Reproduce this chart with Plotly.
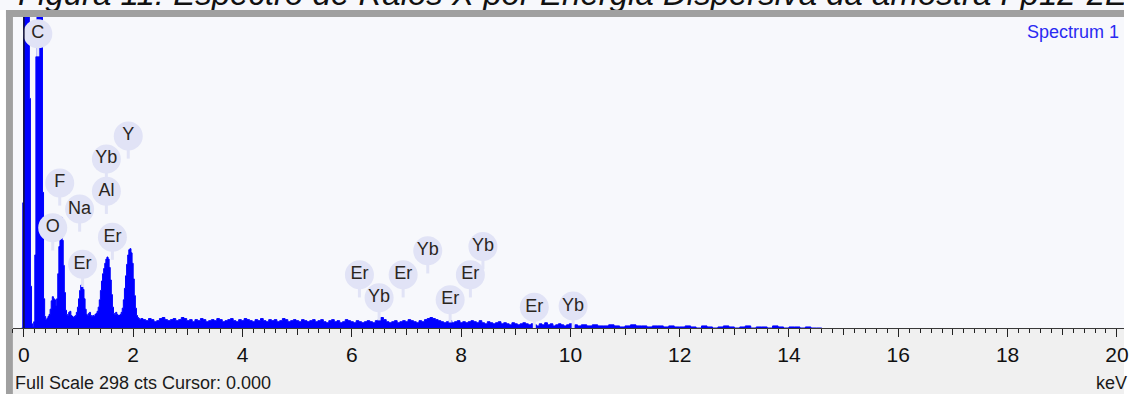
import numpy as np
import plotly.graph_objects as go

# ---------------- data ----------------
# low-energy part of the spectrum, channels of 0.02 keV starting at -0.04 keV
low_start_kev = -0.04
low_step_kev = 0.02
low_cts = [
    0, 120,
    400, 450, 460, 430, 380, 220, 40, 4, 1, 6,
    70, 260, 460, 520, 510, 450, 330, 130, 28, 11,
    8, 9, 11, 13, 18, 26, 30, 28, 27, 21,
    28, 52, 78, 86, 106, 84, 60, 34, 17, 13,
    12, 15, 16, 12, 11, 10, 11, 12, 15, 20,
    28, 36, 41, 42, 37, 28, 18, 13, 12, 14,
    15, 12, 11, 12, 11, 13, 14, 16, 20, 27,
    36, 45, 52, 57, 62, 66, 68, 66, 58, 46,
    32, 20, 14, 13, 15, 13, 12, 12, 13, 15,
    19, 27, 38, 50, 61, 70, 75, 76, 72, 62,
    47, 31, 19, 12, 10, 9, 8, 9,
]
# background part, channels of 0.05 keV starting at 2.18 keV
bg_start_kev = 2.18
bg_step_kev = 0.05
bg_cts = [
    8, 7, 9, 8, 6, 7, 9, 10, 8, 7, 8, 9, 7, 8, 10, 9, 7, 8, 6, 8,
    7, 9, 8, 6, 7, 8, 7, 9, 8, 6, 7, 8, 9, 7, 6, 8, 7, 9, 8, 7,
    6, 8, 7, 9, 7, 6, 8, 7, 8, 6, 7, 9, 8, 6, 7, 8, 7, 6, 8, 7,
    6, 7, 8, 6, 7, 8, 6, 5, 7, 8, 6, 7, 5, 6, 8, 7, 6, 5, 7, 6,
    5, 6, 7, 6, 5, 7, 8, 10, 8, 6, 5, 6, 7, 5, 6, 7, 6, 8, 7, 6,
    5, 7, 6, 8, 9, 10, 9, 8, 7, 6, 5, 6, 7, 5, 6, 7, 5, 6, 5, 6,
    7, 6, 5, 7, 5, 4, 6, 5, 4, 5, 6, 4, 5, 4, 3, 5, 4, 3, 4, 5,
    4, 3, 4, 3, 2, 4, 3, 5, 3, 4, 2, 3, 4, 3, 2, 3, 4, 2, 3, 2,
]
# high-energy tail, channels of 0.1 keV starting at 10.2 keV
tail_start_kev = 10.2
tail_step_kev = 0.1
tail_cts = [
    3, 2, 3, 2, 2, 3, 2, 1, 2, 3, 2, 2, 1, 2, 2, 1, 2, 1, 1, 2,
    1, 0, 2, 1, 0, 1, 2, 1, 0, 1, 2, 0, 1, 1, 0, 2, 1, 0, 1, 1,
    0, 1, 0, 0, 0,
]

# element labels (energy in keV, height in counts)
labels = ["C", "Y", "Yb", "F", "Al", "Na", "O", "Er", "Er",
          "Er", "Yb", "Er", "Yb", "Er", "Yb", "Er", "Er", "Yb"]
label_kev = [0.255, 1.91, 1.51, 0.656, 1.51, 1.02, 0.528, 1.62, 1.075,
             6.14, 6.50, 6.94, 7.39, 8.17, 8.40, 7.80, 9.34, 10.05]
label_cts = [282, 184, 162, 139, 131, 114, 96, 87, 61,
             51, 29, 51, 74, 51, 78, 27, 20, 21]

full_scale_cts = 298
cursor_kev = 0.0
spectrum_name = "Spectrum 1"
x_tick_step = 2
caption = "Figura 11: Espectro de Raios X por Energia Dispersiva da amostra Fp12-2Er"

# ---------------- build ----------------
def grid(start, step, n):
    return list(np.round(start + step * np.arange(n), 3))

kev = grid(low_start_kev, low_step_kev, len(low_cts)) + \
      grid(bg_start_kev, bg_step_kev, len(bg_cts)) + \
      grid(tail_start_kev, tail_step_kev, len(tail_cts))
cts = low_cts + bg_cts + tail_cts

W, H = 1129, 394
def px(x):
    return x / W
def py(y):
    return 1 - y / H

PLOT_L, PLOT_T, PLOT_B = 13, 17, 328
BLUE = "#0000FF"
BUBBLE = "#E1E3F6"
FONT = "Liberation Sans, Arial, sans-serif"

fig = go.Figure()

fig.add_trace(go.Scatter(
    x=kev, y=cts, mode="lines",
    line=dict(color=BLUE, width=1, shape="hv"),
    fill="tozeroy", fillcolor=BLUE, hoverinfo="skip", showlegend=False,
))

# label tails
fig.add_trace(go.Scatter(
    x=label_kev, y=[c - 15 for c in label_cts], mode="markers",
    marker=dict(symbol="line-ns", size=10, line=dict(color=BUBBLE, width=3)),
    hoverinfo="skip", showlegend=False,
))
# label bubbles + text
fig.add_trace(go.Scatter(
    x=label_kev, y=label_cts, mode="markers+text",
    marker=dict(symbol="circle", size=29, color=BUBBLE),
    text=labels, textposition="middle center",
    textfont=dict(family=FONT, size=18, color="#2a2520"),
    hoverinfo="skip", showlegend=False,
))

# helper trace for the 1 keV tick axis
fig.add_trace(go.Scatter(
    x=[cursor_kev], y=[0], xaxis="x2", yaxis="y", mode="markers",
    marker=dict(opacity=0), hoverinfo="skip", showlegend=False,
))

# caption (clipped at the top of the page, hidden below by the frame)
fig.add_trace(go.Scatter(
    x=[18], y=[-3], xaxis="x3", yaxis="y3", mode="text",
    text=[caption], textposition="middle right", cliponaxis=True,
    textfont=dict(family=FONT, size=33, style="italic", color="#111111"),
    hoverinfo="skip", showlegend=False,
))

x_range = [-0.2, 20.13]
x_dom = [px(PLOT_L), 1]
y_dom = [py(PLOT_B), py(PLOT_T)]

fig.update_layout(
    width=W, height=H,
    margin=dict(l=0, r=0, t=0, b=0),
    paper_bgcolor="#FFFFFF",
    plot_bgcolor="#F7F8FC",
    showlegend=False,
    xaxis=dict(
        domain=x_dom, range=x_range, anchor="y",
        showgrid=False, zeroline=False,
        showline=True, linecolor="#3A3A3A", linewidth=1,
        ticks="outside", ticklen=8, tickwidth=1, tickcolor="#222222",
        tick0=0, dtick=x_tick_step,
        tickfont=dict(family=FONT, size=21, color="#111111"),
        ticklabelstandoff=0, ticklabeloverflow="allow",
        minor=dict(ticks="outside", tick0=0, dtick=0.2, ticklen=4,
                   tickwidth=1, tickcolor="#222222", showgrid=False),
    ),
    xaxis2=dict(
        overlaying="x", anchor="y", side="bottom", range=x_range,
        showgrid=False, zeroline=False, showline=False,
        ticks="outside", ticklen=6, tickwidth=1, tickcolor="#222222",
        tick0=0, dtick=x_tick_step / 2, showticklabels=False,
    ),
    yaxis=dict(domain=y_dom, range=[0, full_scale_cts], visible=False,
               showgrid=False, zeroline=False),
    xaxis3=dict(domain=[0, 1], range=[0, W], visible=False, anchor="y3"),
    yaxis3=dict(domain=[py(10), 1], range=[10, 0], visible=False, anchor="x3"),
    shapes=[
        # grey frame: top bar and left bar
        dict(type="rect", xref="paper", yref="paper", layer="below",
             x0=px(6), x1=1, y0=py(17), y1=py(10),
             fillcolor="#A0A0A0", line=dict(width=0)),
        dict(type="rect", xref="paper", yref="paper", layer="below",
             x0=px(6), x1=px(PLOT_L), y0=0, y1=py(10),
             fillcolor="#A0A0A0", line=dict(width=0)),
        # light grey status area under the axis
        dict(type="rect", xref="paper", yref="paper", layer="below",
             x0=px(PLOT_L), x1=1, y0=0, y1=py(PLOT_B),
             fillcolor="#F0F0F0", line=dict(width=0)),
        # cursor line
        dict(type="line", xref="x", yref="y domain", x0=cursor_kev, x1=cursor_kev,
             y0=0, y1=1, line=dict(color="#101030", width=1.5), layer="above"),
    ],
    annotations=[
        dict(text=spectrum_name, xref="paper", yref="paper",
             x=px(1126), y=py(32), xanchor="right", yanchor="middle",
             showarrow=False, font=dict(family=FONT, size=18, color="#2A2AF2")),
        dict(text=f"Full Scale {full_scale_cts} cts Cursor: {cursor_kev:.3f}",
             xref="paper", yref="paper", x=px(13), y=py(383),
             xanchor="left", yanchor="middle", showarrow=False,
             font=dict(family=FONT, size=18, color="#1A1A1A")),
        dict(text="keV", xref="paper", yref="paper", x=px(1099), y=py(383),
             xanchor="left", yanchor="middle", showarrow=False,
             font=dict(family=FONT, size=18, color="#1A1A1A")),
    ],
)

fig.write_html("out.html")
